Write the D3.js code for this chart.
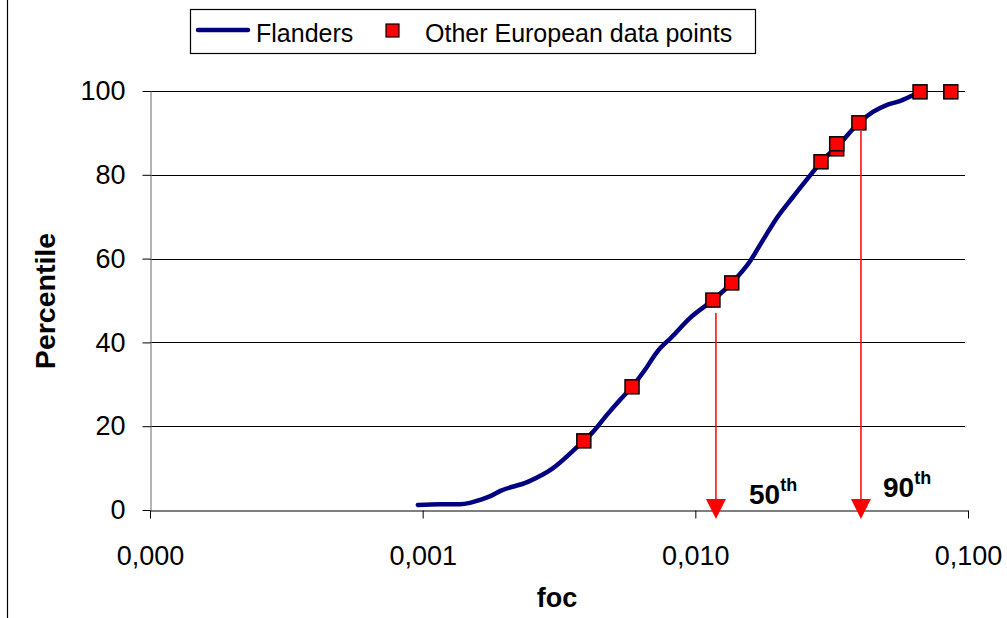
<!DOCTYPE html>
<html>
<head>
<meta charset="utf-8">
<script src="https://cdn.jsdelivr.net/npm/d3@7"></script>
<style>
  html, body { margin: 0; padding: 0; background: #fff; }
  svg { display: block; font-family: "Liberation Sans", Arial, sans-serif; }
</style>
</head>
<body>
<svg id="chart" width="1007" height="618"></svg>
<script>
// ---- data ----
const xTickValues = [0.0001, 0.001, 0.01, 0.1];
const xTickLabels = ["0,000", "0,001", "0,010", "0,100"];
const yTickValues = [0, 20, 40, 60, 80, 100];

// Flanders cumulative curve (foc, percentile)
const flandersFoc = [0.00096, 0.00116, 0.00137, 0.00149, 0.00162, 0.00177, 0.00192, 0.00243, 0.00298, 0.00368,
  0.00418, 0.00474, 0.0053, 0.00586, 0.00653, 0.00723, 0.0082, 0.00955, 0.0116, 0.0136,
  0.0158, 0.0177, 0.0199, 0.0228, 0.027, 0.0289, 0.033, 0.0398, 0.0448, 0.0505,
  0.0562, 0.0628, 0.0667];
const flandersPct = [1.2, 1.4, 1.4, 1.7, 2.4, 3.3, 4.5, 6.7, 9.8, 15,
  18.4, 22.7, 26.3, 29.4, 33.4, 37.7, 41.3, 45.8, 50.1, 54.2,
  59.2, 64.4, 69.7, 74.7, 80.7, 83.1, 86.6, 92.4, 95.0, 96.7,
  97.6, 99.0, 99.8];

// Other European data points
const euroFoc = [0.0039, 0.00586, 0.0116, 0.0136, 0.0289, 0.0330, 0.0330, 0.0398, 0.0667, 0.0865];
const euroPct = [16.5, 29.4, 50.1, 54.2, 83.1, 86.2, 87.4, 92.4, 99.8, 99.8];

// Percentile arrows
const arrowFoc = [0.0119, 0.0405];
const arrowFrom = [47, 90.5];
const arrowLabels = ["50", "90"];

// ---- layout ----
const svg = d3.select("#chart");
const x = d3.scaleLog().domain([0.0001, 0.1]).range([150, 968]);
const y = d3.scaleLinear().domain([0, 100]).range([510, 91]);
const gridRight = 965;

// outer frame
svg.append("line").attr("x1", 7.5).attr("x2", 7.5).attr("y1", 0).attr("y2", 618)
  .attr("stroke", "#000").attr("stroke-width", 1.2);

// gridlines
svg.append("g").selectAll("line").data(yTickValues.filter(d => d > 0)).join("line")
  .attr("x1", 150).attr("x2", gridRight)
  .attr("y1", d => Math.round(y(d)) + 0.5).attr("y2", d => Math.round(y(d)) + 0.5)
  .attr("stroke", "#000").attr("stroke-width", 1);

// y axis
const yAxis = svg.append("g").attr("transform", "translate(150.5,0)")
  .call(d3.axisLeft(y).tickValues(yTickValues).tickSize(8).tickPadding(17).tickSizeOuter(0));
yAxis.select(".domain").attr("stroke", "#808080").attr("stroke-width", 1.2);
yAxis.selectAll(".tick line").attr("stroke", "#000");
yAxis.selectAll("text").attr("font-size", 27).attr("fill", "#000")
  .attr("font-family", "'Liberation Sans', Arial, sans-serif");

// x axis
const xAxis = svg.append("g").attr("transform", "translate(0,510.5)")
  .call(d3.axisBottom(x).tickValues(xTickValues).tickFormat((d, i) => xTickLabels[i])
    .tickSize(8).tickPadding(27).tickSizeOuter(0));
xAxis.select(".domain").attr("stroke", "#000").attr("stroke-width", 1.2);
xAxis.selectAll(".tick line").attr("stroke", "#000");
xAxis.selectAll("text").attr("font-size", 27).attr("fill", "#000")
  .attr("font-family", "'Liberation Sans', Arial, sans-serif");

// axis titles
svg.append("text").attr("x", 557).attr("y", 607).attr("text-anchor", "middle")
  .attr("font-size", 27).attr("font-weight", "bold").text("foc");
svg.append("text").attr("transform", "translate(55,301) rotate(-90)").attr("text-anchor", "middle")
  .attr("font-size", 28.5).attr("font-weight", "bold").text("Percentile");

// Flanders curve
const pts = flandersFoc.map((f, i) => [f, flandersPct[i]]);
svg.append("path").datum(pts)
  .attr("d", d3.line().x(d => x(d[0])).y(d => y(d[1])).curve(d3.curveMonotoneX))
  .attr("fill", "none").attr("stroke", "#000080").attr("stroke-width", 4.5)
  .attr("stroke-linecap", "round").attr("stroke-linejoin", "round");

// arrows
arrowFoc.forEach((f, i) => {
  const ax = x(f);
  svg.append("line").attr("x1", ax).attr("x2", ax).attr("y1", y(arrowFrom[i])).attr("y2", 502)
    .attr("stroke", "#FF0000").attr("stroke-width", 1.5);
  svg.append("path")
    .attr("d", `M${ax - 10},499 L${ax + 10},499 L${ax},519 Z`)
    .attr("fill", "#FF0000");
});

// arrow labels
const labelPos = [[749, 504], [883, 497]];
arrowLabels.forEach((t, i) => {
  const tx = svg.append("text").attr("x", labelPos[i][0]).attr("y", labelPos[i][1])
    .attr("font-size", 28).attr("font-weight", "bold");
  tx.append("tspan").text(t);
  tx.append("tspan").attr("dy", -13).attr("font-size", 18).text("th");
});

// markers
const msize = 14;
svg.append("g").selectAll("rect").data(euroFoc.map((f, i) => [f, euroPct[i]])).join("rect")
  .attr("x", d => x(d[0]) - msize / 2).attr("y", d => y(d[1]) - msize / 2)
  .attr("width", msize).attr("height", msize)
  .attr("fill", "#FF0000").attr("stroke", "#000").attr("stroke-width", 1.5);

// legend
const lg = svg.append("g");
lg.append("rect").attr("x", 190.5).attr("y", 9.5).attr("width", 565).attr("height", 44)
  .attr("fill", "#fff").attr("stroke", "#000").attr("stroke-width", 1.2);
lg.append("line").attr("x1", 198).attr("x2", 248).attr("y1", 30).attr("y2", 30)
  .attr("stroke", "#000080").attr("stroke-width", 4.5).attr("stroke-linecap", "round");
lg.append("text").attr("x", 256).attr("y", 42).attr("font-size", 25).text("Flanders");
lg.append("rect").attr("x", 386).attr("y", 24).attr("width", 13).attr("height", 13)
  .attr("fill", "#FF0000").attr("stroke", "#000").attr("stroke-width", 1.2);
lg.append("text").attr("x", 425).attr("y", 42).attr("font-size", 25).text("Other European data points");
</script>
</body>
</html>
